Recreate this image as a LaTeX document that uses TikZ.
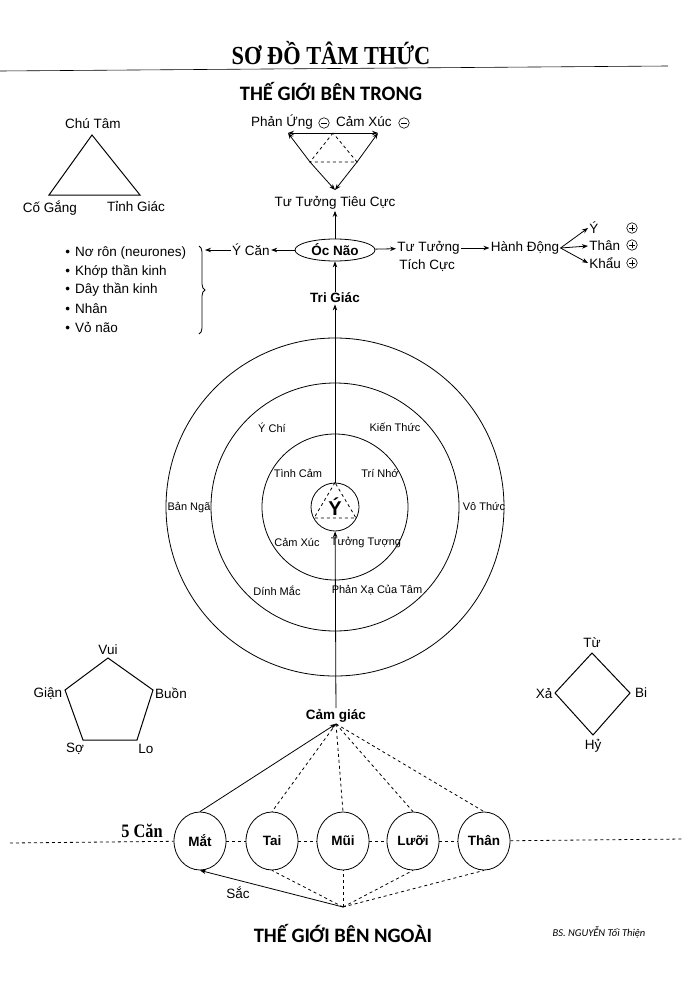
\documentclass[tikz,border=0pt]{standalone}
\usepackage{fontspec}
\setmainfont{Liberation Sans}
\newfontfamily\titlefont[FakeStretch=0.86]{Liberation Serif}
\newfontfamily\headfont{Carlito}
\usetikzlibrary{arrows.meta, shapes.geometric, decorations.pathreplacing}

\begin{document}
\begin{tikzpicture}[x=1pt, y=-1pt, >={Stealth[length=6pt, width=4.5pt]}, line width=0.8pt,
	lbl/.style={font=\fontsize{13.5}{15}\selectfont, inner sep=1pt},
	smalllbl/.style={font=\fontsize{11}{13}\selectfont, inner sep=1pt},
	boldlbl/.style={font=\fontsize{13.5}{15}\selectfont\bfseries, inner sep=1pt},
	heading/.style={font=\headfont\fontsize{20.5}{22}\selectfont\bfseries},
	sense/.style={ellipse, draw, minimum width=52pt, minimum height=58pt, inner sep=0pt,
		font=\fontsize{13.5}{15}\selectfont\bfseries},
	signc/.style={circle, draw, line width=0.6pt, minimum size=10.5pt, inner sep=0pt},
	negc/.style={signc, path picture={\draw[line width=0.6pt] (path picture bounding box.center) +(-3pt,0) -- +(3pt,0);}},
	posc/.style={signc, path picture={\draw[line width=0.6pt] (path picture bounding box.center) +(-3pt,0) -- +(3pt,0)
		(path picture bounding box.center) +(0,-3pt) -- +(0,3pt);}},
	shapeline/.style={line width=1pt, line join=miter}]
	\useasboundingbox (0,0) rectangle (700,990);

	% titles
	\node[font=\titlefont\fontsize{26}{28}\selectfont\bfseries] (title) at (331,53) {SƠ ĐỒ TÂM THỨC};
	\draw[line width=0.6pt] (0,71) -- (668,66);
	\node[heading] (inner) at (331,91) {THẾ GIỚI BÊN TRONG};
	\node[heading] (outer) at (343,933) {THẾ GIỚI BÊN NGOÀI};
	\node[font=\headfont\fontsize{10.5}{12}\selectfont\itshape] (author) at (599,932) {BS. NGUYỄN Tối Thiện};

	% Chu Tam triangle
	\coordinate (ct) at (92,135);
	\coordinate (cg) at (49,195);
	\coordinate (tg) at (140,195);
	\draw[shapeline] (ct) -- (cg) -- (tg) -- cycle;
	\node[lbl] (chutam) at (93,124) {Chú Tâm};
	\node[lbl] (cogang) at (50,208) {Cố Gắng};
	\node[lbl] (tinhgiac) at (136,206) {Tỉnh Giác};

	% negative thoughts
	\coordinate (tl) at (288,133);
	\coordinate (tr) at (378,133);
	\coordinate (bt) at (335,190);
	\coordinate (mt) at (333,133);
	\coordinate (ml) at (310,162);
	\coordinate (mr) at (357,162);
	\draw[->] (mt) -- (tl);
	\draw[->] (mt) -- (tr);
	\draw[->] (ml) -- (tl);
	\draw[->] (ml) -- (bt);
	\draw[->] (mr) -- (tr);
	\draw[->] (mr) -- (bt);
	\draw[dashed] (mt) -- (ml) -- (mr) -- cycle;
	\node[lbl] (phanung) at (282,122) {Phản Ứng};
	\node[negc] (neg1) at (324,123) {};
	\node[lbl] (camxuc) at (364,122) {Cảm Xúc};
	\node[negc] (neg2) at (404,123) {};
	\node[lbl] (tieucuc) at (335,203) {Tư Tưởng Tiêu Cực};

	% brain
	\node[ellipse, draw, minimum width=80pt, minimum height=22pt, inner sep=0pt,
		font=\fontsize{13.5}{15}\selectfont\bfseries] (ocnao) at (335,250) {Óc Não};
	\node[boldlbl] (trigiac) at (335,298) {Tri Giác};
	\node[lbl] (ycan) at (251,250) {Ý Căn};
	\draw[->] (ocnao) -- (tieucuc);
	\draw[->] (trigiac) -- (ocnao);
	\draw[->] (ocnao) -- (ycan);

	\foreach \t [count=\i] in {Nơ rôn (neurones), Khớp thần kinh, Dây thần kinh, Nhân, Vỏ não}
		\node[lbl, anchor=west] (item\i) at (64, 234+18.7*\i) {\textbullet\hspace{5pt}\t};
	\draw[decorate, decoration={brace, amplitude=6pt}] (199,246) -- (199,334);
	\coordinate (bracetop) at (205,250);
	\draw[->] (ycan) -- (bracetop);

	% positive thoughts
	\node[lbl, anchor=west] (tichcuc) at (396,248) {Tư Tưởng};
	\node[lbl, anchor=west] (tichcuc2) at (398,266) {Tích Cực};
	\node[lbl] (hanhdong) at (525,248) {Hành Động};
	\draw[->] (ocnao) -- (tichcuc);
	\draw[->] (tichcuc) -- (hanhdong);
	\node[lbl, anchor=west] (yout) at (588,228) {Ý};
	\node[lbl, anchor=west] (thanout) at (588,246) {Thân};
	\node[lbl, anchor=west] (khauout) at (588,263) {Khẩu};
	\draw[->] (hanhdong.east) -- (yout.west);
	\draw[->] (hanhdong.east) -- (thanout.west);
	\draw[->] (hanhdong.east) -- (khauout.west);
	\node[posc] (pos1) at (632,228) {};
	\node[posc] (pos2) at (632,245) {};
	\node[posc] (pos3) at (632,263) {};

	% circles of mind
	\draw (335,507) circle (169);
	\draw (335,507) circle (124);
	\draw (335,507) circle (73);
	\node[circle, draw, minimum size=48pt, inner sep=0pt,
		font=\fontsize{20}{22}\selectfont\bfseries] (ytam) at (335,507) {Ý};
	\draw[dashed] (ytam.north) -- (314,518) -- (356,518) -- cycle;
	\draw[->] (ytam) -- (trigiac);

	\node[smalllbl] (ychi) at (272,428) {Ý Chí};
	\node[smalllbl] (kienthuc) at (395,427) {Kiến Thức};
	\node[smalllbl] (tinhcam) at (298,473) {Tình Cảm};
	\node[smalllbl] (trinho) at (380,473) {Trí Nhớ};
	\node[smalllbl] (banga) at (189,508) {Bản Ngã};
	\node[smalllbl] (vothuc) at (484,506) {Vô Thức};
	\node[smalllbl] (camxuc2) at (297,542) {Cảm Xúc};
	\node[smalllbl] (tuongtuong) at (366,542) {Tưởng Tượng};
	\node[smalllbl] (dinhmac) at (277,591) {Dính Mắc};
	\node[smalllbl] (phanxa) at (377,590) {Phản Xạ Của Tâm};

	% emotions
	\coordinate (vui) at (108,658);
	\coordinate (buon) at (153,690);
	\coordinate (lo) at (137,740);
	\coordinate (so) at (83,740);
	\coordinate (gian) at (65,690);
	\draw[shapeline] (vui) -- (buon) -- (lo) -- (so) -- (gian) -- cycle;
	\node[lbl] (vuil) at (108,650) {Vui};
	\node[lbl] (buonl) at (171,693) {Buồn};
	\node[lbl] (lol) at (146,749) {Lo};
	\node[lbl] (sol) at (75,749) {Sợ};
	\node[lbl] (gianl) at (48,694) {Giận};

	% four immeasurables
	\coordinate (tu) at (592,653);
	\coordinate (bi) at (630,693);
	\coordinate (hy) at (593,735);
	\coordinate (xa) at (555,693);
	\draw[shapeline] (tu) -- (bi) -- (hy) -- (xa) -- cycle;
	\node[lbl] (tul) at (592,643) {Từ};
	\node[lbl] (bil) at (641,693) {Bi};
	\node[lbl] (hyl) at (593,746) {Hỷ};
	\node[lbl] (xal) at (544,694) {Xả};

	% senses
	\node[boldlbl] (camgiac) at (336,716) {Cảm giác};
	\draw[->] (camgiac) -- (ytam);
	\node[sense] (mat) at (200,841) {Mắt};
	\node[sense] (tai) at (272,841) {Tai};
	\node[sense] (mui) at (343,841) {Mũi};
	\node[sense] (luoi) at (413,841) {Lưỡi};
	\node[sense] (than) at (484,841) {Thân};
	\node[font=\titlefont\fontsize{19}{21}\selectfont\bfseries] (nam) at (142,831) {5 Căn};
	\coordinate (lineL) at (10,843);
	\coordinate (lineR) at (683,839);
	\draw[dashed] (lineL) -- (mat);
	\draw[dashed] (mat) -- (tai);
	\draw[dashed] (tai) -- (mui);
	\draw[dashed] (mui) -- (luoi);
	\draw[dashed] (luoi) -- (than);
	\draw[dashed] (than) -- (lineR);

	\draw[->] (mat.north) -- (camgiac.south);
	\foreach \s in {tai, mui, luoi, than}
		\draw[dashed] (camgiac.south) -- (\s.north);

	\coordinate (world) at (343,907);
	\draw[->] (world) -- (mat.south);
	\node[lbl] (sac) at (238,893) {Sắc};
	\foreach \s in {tai, mui, luoi, than}
		\draw[dashed] (world) -- (\s.south);
\end{tikzpicture}
\end{document}
